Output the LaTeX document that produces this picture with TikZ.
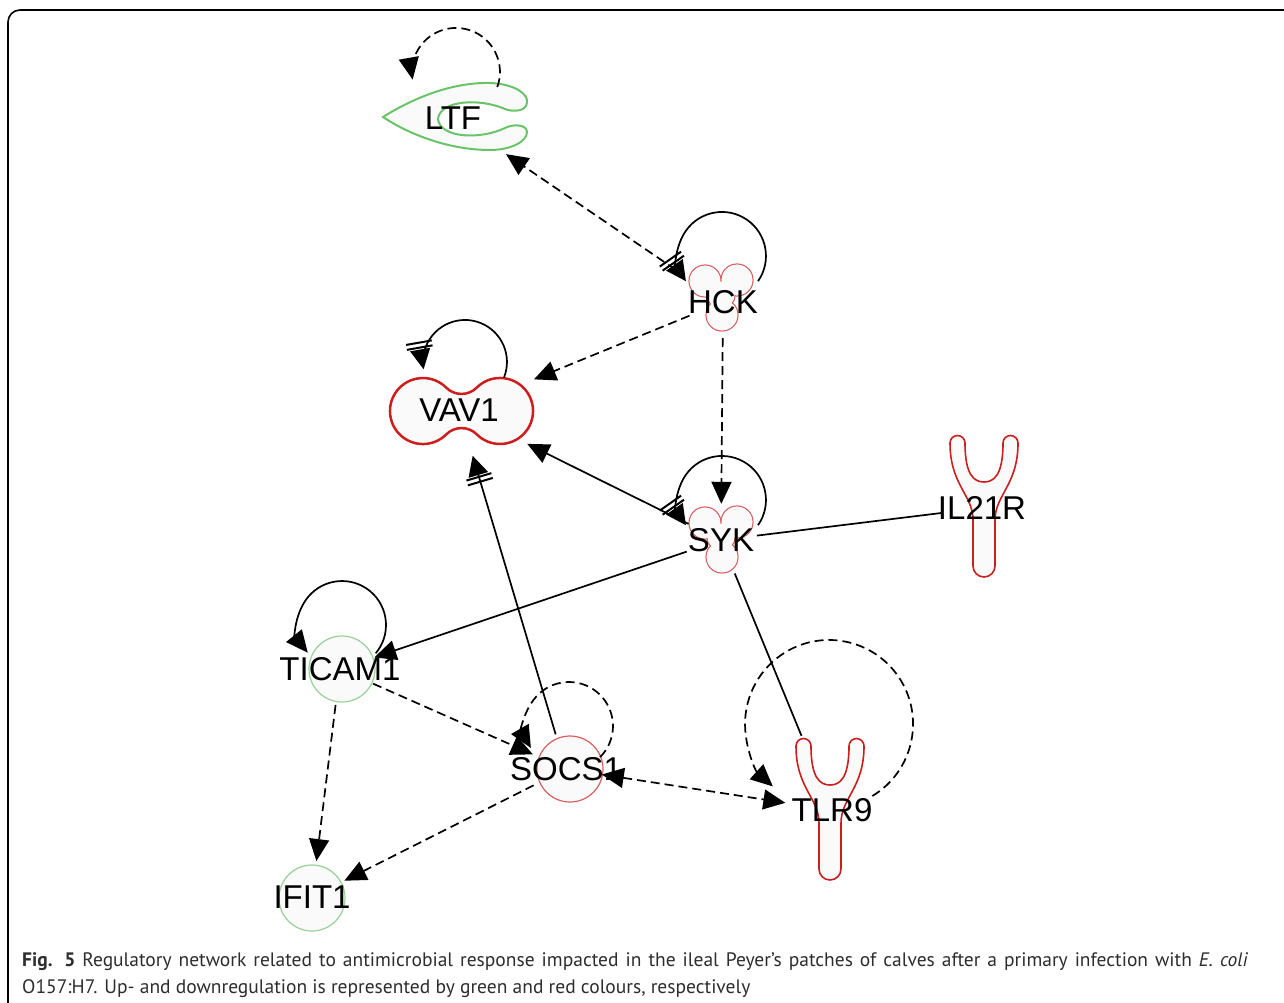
\documentclass[tikz,border=0pt]{standalone}
\usepackage{fontspec}
\usepackage{tikz}
\usetikzlibrary{arrows.meta,shapes.geometric,positioning}
\setmainfont{PT Sans}
\newfontfamily\genefont{Liberation Sans}
\definecolor{upgreen}{RGB}{105,195,105}
\definecolor{lightgreen}{RGB}{150,210,150}
\definecolor{downred}{RGB}{205,30,30}
\definecolor{lightred}{RGB}{215,95,95}
\definecolor{shapefill}{RGB}{250,250,250}
\definecolor{captext}{RGB}{45,45,45}

\tikzset{
  kinase/.pic={
    \foreach \dx/\dy/\r in {-16/-12/16, 16/-13/16, 1/22/16, 0/2/14}
      \draw[lightred, line width=1.2pt, fill=shapefill] (\dx,\dy) circle[radius=\r];
    \foreach \dx/\dy/\r in {-16/-12/16, 16/-13/16, 1/22/16, 0/2/14}
      \fill[shapefill] (\dx,\dy) circle[radius=\r-0.7];
  },
  receptor/.pic={
    \draw[downred, line width=1.6pt, fill=shapefill]
      (-11,131) -- (-11,85) .. controls (-11,60) and (-34,50) .. (-34,8)
      arc[start angle=180, end angle=360, radius=7.5]
      .. controls (-19,40) and (-10,47) .. (0,47)
      .. controls (10,47) and (19,40) .. (19,8)
      arc[start angle=180, end angle=360, radius=7.5]
      .. controls (34,50) and (11,60) .. (11,85)
      -- (11,131) arc[start angle=0, end angle=180, radius=11] -- cycle;
  }
}

\begin{document}
\begin{tikzpicture}[x=1pt, y=-1pt,
    gene/.style={circle, inner sep=0pt, minimum size=72pt},
    genetext/.style={font=\genefont\fontsize{33}{33}\selectfont, text=black, inner sep=0pt},
    link/.style={line width=1.7pt},
    dashlink/.style={line width=1.7pt, dash pattern=on 9pt off 5pt},
    acts/.style={-{Triangle[length=22pt,width=20pt]}},
    inhibacts/.style={-{Bar[width=26pt,line width=2pt,sep=3pt] Bar[width=26pt,line width=2pt,sep=1pt] Triangle[length=20pt,width=20pt]}},
  ]
  \useasboundingbox (0,0) rectangle (1284,1002);
  \clip (0,0) rectangle (1284,1002);

  \draw[line width=1.6pt, rounded corners=12pt] (8,1040) -- (8,10) -- (1320,10);

  \draw[upgreen, line width=2pt, fill=shapefill]
    (383,117) .. controls (410,100) and (450,82) .. (490,83)
    .. controls (515,84) and (528,94) .. (527,102)
    .. controls (527,112) and (512,112) .. (505,109)
    .. controls (480,98) and (440,100) .. (438,119)
    .. controls (440,138) and (480,140) .. (505,128)
    .. controls (512,124) and (527,124) .. (527,132)
    .. controls (527,142) and (510,150) .. (490,150)
    .. controls (450,150) and (410,135) .. (383,117) -- cycle;
  \pic at (721,293) {kinase};
  \pic at (721,535) {kinase};
  \draw[downred, line width=2.5pt, fill=shapefill]
    (446.3,387.7) arc[start angle=-45, end angle=-315, radius=33]
    .. controls (454.5,426) and (468.5,426) .. (476.7,434.3)
    arc[start angle=135, end angle=-135, radius=33]
    .. controls (468.5,396) and (454.5,396) .. (446.3,387.7) -- cycle;
  \pic at (984,435) {receptor};
  \pic at (830,738) {receptor};
  \draw[lightgreen, line width=1.2pt, fill=shapefill] (342,669) circle[radius=33];
  \draw[lightred, line width=1.2pt, fill=shapefill] (570,769) circle[radius=33];
  \draw[lightgreen, line width=1.2pt, fill=shapefill] (312,898) circle[radius=33];

  \node[gene, minimum size=128pt, label={[genetext]center:LTF}] (ltf) at (453,118) {};
  \node[gene, label={[genetext]center:HCK}] (hck) at (723,302) {};
  \node[ellipse, inner sep=0pt, minimum width=200pt, minimum height=92pt,
    label={[genetext]center:VAV1}] (vav) at (459,410) {};
  \node[gene, label={[genetext]center:SYK}] (syk) at (721,540) {};
  \node[gene, minimum size=80pt, label={[genetext]center:IL21R}] (ilr) at (982,508) {};
  \node[gene, label={[genetext]center:TICAM1}] (ticam) at (340,669) {};
  \node[gene, label={[genetext]center:SOCS1}] (socs) at (566,769) {};
  \node[gene, label={[genetext]center:TLR9}] (tlr) at (832,810) {};
  \node[gene, label={[genetext]center:IFIT1}] (ifit) at (312,897) {};

  \draw[dashlink, acts, shorten <=21pt] (hck) -- (ltf);
  \draw[dashlink, acts] (hck) -- (vav);
  \draw[dashlink, acts] (hck) -- (syk);
  \draw[link, acts] (syk) -- (vav);
  \draw[link] (syk) -- (ilr);
  \draw[link, acts] (syk) -- (ticam);
  \draw[link, shorten >=44pt] (syk) -- (tlr);
  \draw[dashlink, acts] (ticam) -- (socs);
  \draw[dashlink, acts] (ticam) -- (ifit);
  \draw[link, inhibacts] (socs) -- (vav);
  \draw[dashlink, acts] (socs) -- (ifit);
  \draw[dashlink, {Triangle[length=22pt,width=20pt]}-{Triangle[length=22pt,width=20pt]}, shorten >=11pt] (socs) -- (tlr);

  \draw[dashlink, acts] ([shift={(44.3,-31)}]ltf.center) arc[start angle=20, end angle=-190, radius=44];
  \draw[link, inhibacts] ([shift={(35,-20.8)}]hck.center) arc[start angle=35, end angle=-215, radius=44];
  \draw[link, inhibacts] ([shift={(44.9,-32.3)}]vav.center) arc[start angle=22, end angle=-190, radius=42];
  \draw[link, inhibacts] ([shift={(37,-14.8)}]syk.center) arc[start angle=35, end angle=-215, radius=44];
  \draw[link, acts] ([shift={(35.7,-15.7)}]ticam.center) arc[start angle=40, end angle=-219, radius=44];
  \draw[dashlink, acts] ([shift={(34.1,-11.9)}]socs.center) arc[start angle=45, end angle=-210, radius=44];
  \draw[dashlink, acts] ([shift={(40.3,-14)}]tlr.center) arc[start angle=59, end angle=-228, radius=84];

  \node[anchor=north west, inner sep=0pt, text width=1226pt, align=justify, text=captext,
    font=\fontsize{19.5}{27}\selectfont] (caption) at (22,952)
    {\textbf{Fig. 5} Regulatory network related to antimicrobial response impacted in the ileal Peyer’s patches of calves after a primary infection with \textit{E. coli}\linebreak O157:H7. Up- and downregulation is represented by green and red colours, respectively};
\end{tikzpicture}
\end{document}
